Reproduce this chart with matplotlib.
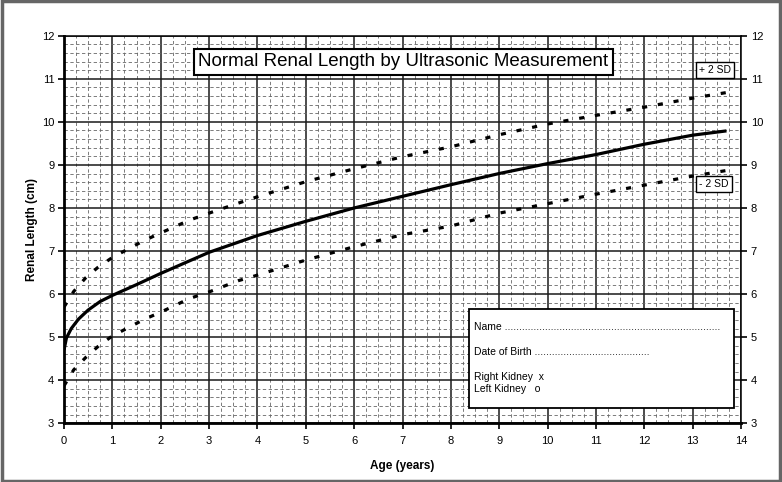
import numpy as np
import matplotlib.pyplot as plt
from matplotlib.ticker import MultipleLocator
from matplotlib.patches import Rectangle

plt.rcParams['font.family'] = ['Liberation Sans', 'DejaVu Sans']

# Data -------------------------------------------------------------
age_mean = [0, 0.05, 0.15, 0.3, 0.5, 0.75, 1, 1.5, 2, 3, 4, 5, 6, 7, 8, 9, 10, 11, 12, 13, 13.7]
len_mean = [4.7, 4.98, 5.2, 5.42, 5.63, 5.83, 5.97, 6.22, 6.48, 6.97, 7.36, 7.69, 8.0, 8.27,
            8.54, 8.8, 9.03, 9.24, 9.48, 9.69, 9.79]

age_sd = [0, 0.2, 0.45, 0.7, 1, 1.33, 1.65, 2, 2.6, 3, 3.6, 4, 5, 6, 7, 8, 9, 10, 11, 12, 13, 13.7]
len_plus2 = [5.7, 6.06, 6.38, 6.62, 6.85, 7.05, 7.24, 7.42, 7.72, 7.88, 8.11, 8.26, 8.61, 8.91,
             9.19, 9.42, 9.7, 9.95, 10.15, 10.34, 10.55, 10.68]
len_minus2 = [3.87, 4.24, 4.53, 4.78, 5.03, 5.22, 5.41, 5.58, 5.9, 6.05, 6.31, 6.44, 6.79, 7.1,
              7.38, 7.58, 7.88, 8.1, 8.32, 8.53, 8.74, 8.87]

x_ticks = list(range(0, 15))
y_ticks = list(range(3, 13))

title = 'Normal Renal Length by Ultrasonic Measurement'

# Figure -----------------------------------------------------------
fig = plt.figure(figsize=(7.82, 4.82), dpi=100)
ax = fig.add_axes([64/782, 1 - 423.3/482, (741 - 64)/782, (423.3 - 35.7)/482])

ax.set_xlim(0, 14)
ax.set_ylim(3, 12)
ax.set_xticks(x_ticks)
ax.set_yticks(y_ticks)
ax.xaxis.set_minor_locator(MultipleLocator(0.25))
ax.yaxis.set_minor_locator(MultipleLocator(0.2))

ax.grid(which='major', color='#1a1a1a', linewidth=1.1)
ax.grid(which='minor', color='#666666', linewidth=0.6, linestyle=(0, (4, 3)))
ax.set_axisbelow(True)

for s in ['left', 'bottom']:
    ax.spines[s].set_linewidth(2)
for s in ['top', 'right']:
    ax.spines[s].set_linewidth(1.1)

ax.tick_params(which='major', direction='out', length=4, width=1.2, labelsize=8, pad=3)
ax.tick_params(which='minor', length=0)
ax.tick_params(axis='y', right=True, labelright=True)
ax.tick_params(axis='x', pad=5)

ax.plot(age_mean, len_mean, color='black', linewidth=2.3, solid_capstyle='butt')
ax.plot(age_sd, len_plus2, color='black', linewidth=2.3, linestyle=(0, (1.6, 3.4)))
ax.plot(age_sd, len_minus2, color='black', linewidth=2.3, linestyle=(0, (1.6, 3.4)))

ax.set_xlabel('Age (years)', fontsize=8.5, fontweight='bold', labelpad=10)
ax.set_ylabel('Renal Length (cm)', fontsize=8.5, fontweight='bold')
ax.yaxis.set_label_coords(-0.038, 0.5)

# title box
ax.text(7.02, 11.39, title, ha='center', va='center', fontsize=13.5,
        bbox=dict(boxstyle='square,pad=0.25', facecolor='white', edgecolor='black', linewidth=1.5))

# SD labels
ax.text(13.47, 11.2, '+ 2 SD', ha='center', va='center', fontsize=7.5,
        bbox=dict(boxstyle='square,pad=0.3', facecolor='white', edgecolor='black', linewidth=1))
ax.text(13.44, 8.56, '- 2 SD', ha='center', va='center', fontsize=7.5,
        bbox=dict(boxstyle='square,pad=0.3', facecolor='white', edgecolor='black', linewidth=1))

# info box
ax.add_patch(Rectangle((8.37, 3.36), 5.49, 2.29, facecolor='white', edgecolor='black',
                       linewidth=1.3, zorder=3))
ax.text(8.47, 5.23, 'Name ' + '.' * 75, fontsize=7.5, va='center', zorder=4)
ax.text(8.47, 4.65, 'Date of Birth ' + '.' * 40, fontsize=7.5, va='center', zorder=4)
ax.text(8.47, 4.07, 'Right Kidney  x', fontsize=7.5, va='center', zorder=4)
ax.text(8.47, 3.79, 'Left Kidney   o', fontsize=7.5, va='center', zorder=4)

# grey frame round the picture
fig.patches.append(Rectangle((0.002, 0.003), 0.996, 0.994, transform=fig.transFigure,
                             fill=False, edgecolor='#666666', linewidth=2.5))

fig.savefig('out.png', dpi=100)
